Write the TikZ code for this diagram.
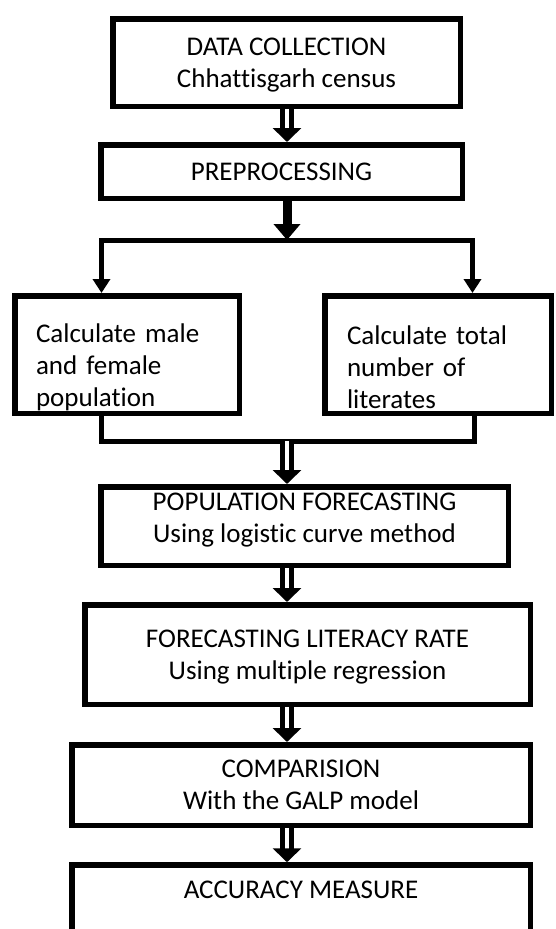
\documentclass[tikz,border=0pt]{standalone}
\usepackage{fontspec}
\setmainfont{Carlito}[Ligatures=NoCommon]
\usetikzlibrary{arrows.meta}

\begin{document}
\begin{tikzpicture}[x=1pt,y=-1pt,
	box/.style={draw,line width=5.5pt,align=center,inner sep=0pt,font=\fontsize{27pt}{32pt}\selectfont},
	sidebox/.style={box,align=left,text width=182pt,inner xsep=21pt},
	dblarrow/.style={double,double distance=4pt,line width=5pt,-{Triangle[width=28pt,length=14pt]}},
	thickarrow/.style={line width=9pt,-{Triangle[width=26pt,length=16pt]}},
	branch/.style={line width=5pt,line join=miter,{Triangle[width=17pt,length=14pt]}-{Triangle[width=17pt,length=14pt]}},
	link/.style={line width=5pt,line join=miter}]
	\useasboundingbox (0,0) rectangle (555,929);
	\node [box,minimum width=347.5pt,minimum height=87.5pt] (collect) at (286.5,62.5) {\rule{0pt}{23pt}DATA COLLECTION\\Chhattisgarh census};
	\node [box,minimum width=361.5pt,minimum height=53.5pt] (prep) at (281.5,171.5) {PREPROCESSING};
	\node [sidebox,minimum width=224.5pt,minimum height=117.5pt] (male) at (127,354.5) {\rule{0pt}{44pt}Calculate male\\and female\\population};
	\node [sidebox,minimum width=226.5pt,minimum height=117.5pt] (literates) at (438,354.5) {\rule{0pt}{44pt}Calculate total\\number of\\literates};
	\node [box,minimum width=407.5pt,minimum height=78.5pt] (popfc) at (304.5,526) {POPULATION FORECASTING\\Using logistic curve method\rule[-17pt]{0pt}{17pt}};
	\node [box,minimum width=445.5pt,minimum height=99.5pt] (litrate) at (307.5,654.5) {\rule{0pt}{22.5pt}FORECASTING LITERACY RATE\\Using multiple regression};
	\node [box,minimum width=458.5pt,minimum height=80.5pt] (compare) at (301,785) {COMPARISION\\With the GALP model};
	\node [box,minimum width=458.5pt,text height=33pt,text depth=75pt,anchor=base] (accuracy) at (301,898) {ACCURACY MEASURE};

	\coordinate (spine) at (287,0);
	\coordinate (splitL) at (101.5,240);
	\coordinate (splitR) at (472.5,240);
	\coordinate (joinL) at (101.5,441);
	\coordinate (joinR) at (474,441);

	\draw [dblarrow] (spine |- collect.south) -- (spine |- prep.north);
	\draw [thickarrow] (spine |- prep.south) -- (spine |- splitL);
	\draw [branch] (male.north -| splitL) -- (splitL) -- (splitR) -- (literates.north -| splitR);
	\draw [link] (male.south -| joinL) -- (joinL) -- (joinR) -- (literates.south -| joinR);
	\draw [dblarrow] (spine |- joinL) -- (spine |- popfc.north);
	\draw [dblarrow] (spine |- popfc.south) -- (spine |- litrate.north);
	\draw [dblarrow] (spine |- litrate.south) -- (spine |- compare.north);
	\draw [dblarrow] (spine |- compare.south) -- (spine |- accuracy.north);
\end{tikzpicture}
\end{document}
